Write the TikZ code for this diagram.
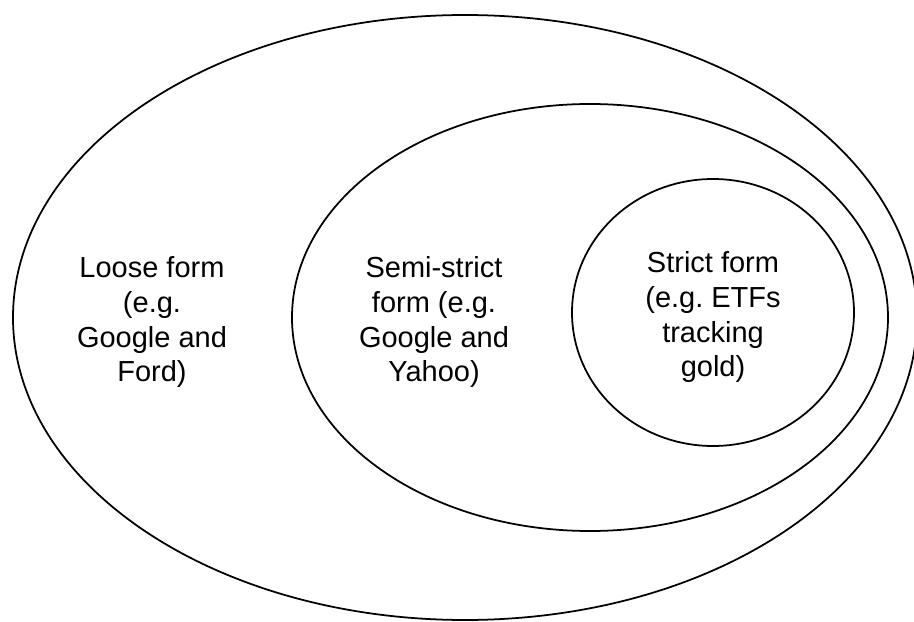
\documentclass[tikz,border=0pt]{standalone}
\usepackage{fontspec}
\setmainfont{Liberation Sans}
\usepackage{tikz}

\begin{document}
\begin{tikzpicture}[x=0.02cm, y=-0.02cm, line width=1pt,
    label text/.style={align=center, anchor=north, inner sep=0pt,
        font=\fontsize{16.5pt}{19.7pt}\selectfont}]
        % Sayfa sinirlari
        \useasboundingbox (0,0) rectangle (914,622);

        % Elipsler
        \draw (465,317.5) ellipse [x radius=452, y radius=302.5];
        \draw (590,317.5) ellipse [x radius=298, y radius=213.5];
        \draw (713,312.5) ellipse [x radius=141, y radius=133.5];

        % Yazilar
        \node[label text] (loose) at (152,256) {Loose form\\(e.g.\\Google and\\Ford)};
        \node[label text] (semi) at (434,256) {Semi-strict\\form (e.g.\\Google and\\Yahoo)};
        \node[label text] (strict) at (713,251) {Strict form\\(e.g.\ ETFs\\tracking\\gold)};

    \end{tikzpicture}
\end{document}
